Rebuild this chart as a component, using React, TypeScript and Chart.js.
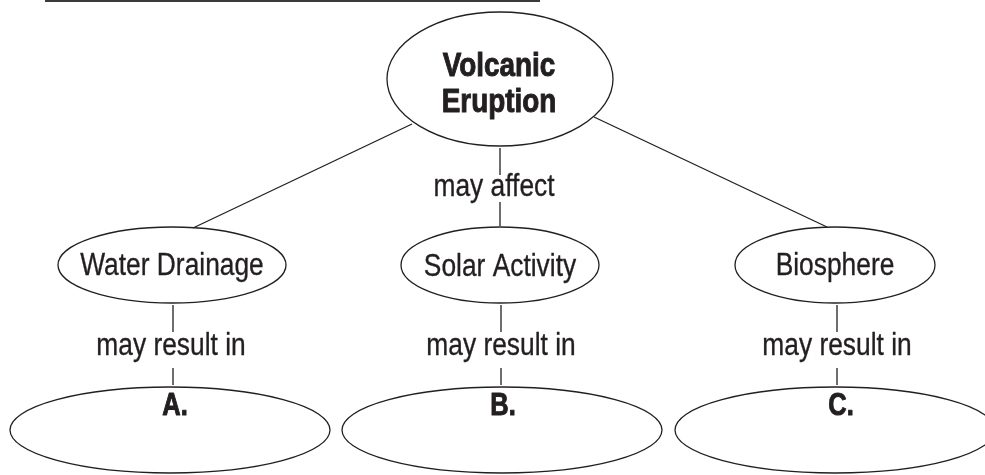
import { useEffect, useRef } from "react";
import { Chart, registerables } from "chart.js";

Chart.register(...registerables);

// ---- Diagram data (in the 985 x 475 chart units) ----
const nodeLines: string[][] = [
  ["Volcanic", "Eruption"],
  ["Water Drainage"],
  ["Solar Activity"],
  ["Biosphere"],
  ["A."],
  ["B."],
  ["C."],
];
const nodeBold = [true, false, false, false, true, true, true];
const nodeX = [500, 172, 500, 835, 170, 502, 835];
const nodeY = [79, 265, 265, 265, 430, 430, 430];
const nodeRx = [113, 114, 99, 100, 160, 160, 160];
const nodeRy = [67, 38, 38, 38, 43, 43, 43];
const nodeTextX = [499, 172, 500, 835, 175, 503, 841];
const nodeTextY = [76, 275, 276, 275, 415, 415, 415];

const linkLabels = ["may affect", "may result in", "may result in", "may result in"];
const linkLabelX = [494, 171, 501, 837];
const linkLabelY = [196, 355, 355, 355];

const linkX1 = [412, 594, 500, 500, 173, 173, 501, 501, 837, 837];
const linkY1 = [124, 117, 148, 202, 305, 368, 305, 368, 305, 368];
const linkX2 = [193, 827, 500, 500, 173, 173, 501, 501, 837, 837];
const linkY2 = [228, 227, 175, 226, 332, 385, 332, 385, 332, 385];

const ruleX = [45, 540];
const ruleY = [0.8, 0.8];

const INK = "#231f20";
const FONT = "'Liberation Sans', Arial, 'Helvetica', sans-serif";

function drawNarrow(
  ctx: CanvasRenderingContext2D,
  text: string,
  x: number,
  y: number,
  sx: number,
  weight: number
) {
  ctx.save();
  ctx.translate(x, y);
  ctx.scale(sx, 1);
  ctx.fillText(text, 0, 0);
  if (weight > 0) {
    ctx.lineWidth = weight;
    ctx.strokeStyle = INK;
    ctx.lineJoin = "round";
    ctx.strokeText(text, 0, 0);
  }
  ctx.restore();
}

const conceptPlugin = {
  id: "conceptMap",
  afterDatasetsDraw(chart: any) {
    const { ctx } = chart;
    const xs = chart.scales.x;
    const ys = chart.scales.y;
    ctx.save();
    // ellipses
    for (let i = 0; i < nodeX.length; i++) {
      const cx = xs.getPixelForValue(nodeX[i]);
      const cy = ys.getPixelForValue(nodeY[i]);
      const rx = Math.abs(xs.getPixelForValue(nodeX[i] + nodeRx[i]) - cx);
      const ry = Math.abs(ys.getPixelForValue(nodeY[i] + nodeRy[i]) - cy);
      ctx.beginPath();
      ctx.ellipse(cx, cy, rx, ry, 0, 0, Math.PI * 2);
      ctx.lineWidth = 1.3;
      ctx.strokeStyle = INK;
      ctx.stroke();
    }
    // node texts
    ctx.fillStyle = INK;
    ctx.textAlign = "center";
    ctx.textBaseline = "alphabetic";
    for (let i = 0; i < nodeLines.length; i++) {
      ctx.font = nodeBold[i] ? `bold ${i === 0 ? 34 : 31}px ${FONT}` : `31px ${FONT}`;
      const lines = nodeLines[i];
      for (let j = 0; j < lines.length; j++) {
        drawNarrow(
          ctx,
          lines[j],
          xs.getPixelForValue(nodeTextX[i]),
          ys.getPixelForValue(nodeTextY[i] + j * 36),
          nodeBold[i] ? 0.82 : 0.85,
          nodeBold[i] ? 1.0 : 0.35
        );
      }
    }
    // link labels
    ctx.font = `31px ${FONT}`;
    for (let i = 0; i < linkLabels.length; i++) {
      drawNarrow(
        ctx,
        linkLabels[i],
        xs.getPixelForValue(linkLabelX[i]),
        ys.getPixelForValue(linkLabelY[i]),
        0.85,
        0.35
      );
    }
    ctx.restore();
  },
};

export default function App() {
  const ref = useRef<HTMLCanvasElement | null>(null);
  useEffect(() => {
    if (!ref.current) return;
    const datasets: any[] = linkX1.map((_, i) => ({
      type: "line",
      data: [
        { x: linkX1[i], y: linkY1[i] },
        { x: linkX2[i], y: linkY2[i] },
      ],
      borderColor: INK,
      borderWidth: 1.3,
      pointRadius: 0,
      showLine: true,
      fill: false,
    }));
    datasets.push({
      type: "line",
      data: [
        { x: ruleX[0], y: ruleY[0] },
        { x: ruleX[1], y: ruleY[1] },
      ],
      borderColor: "#3a3a3a",
      borderWidth: 2.5,
      pointRadius: 0,
      showLine: true,
      fill: false,
    });
    const chart = new Chart(ref.current, {
      type: "scatter",
      data: { datasets },
      options: {
        animation: false,
        responsive: true,
        maintainAspectRatio: false,
        layout: { padding: 0 },
        plugins: { legend: { display: false }, tooltip: { enabled: false } },
        scales: {
          x: { type: "linear", min: 0, max: 985, display: false },
          y: { type: "linear", min: 0, max: 475, reverse: true, display: false },
        },
        clip: false as any,
      },
      plugins: [conceptPlugin],
    } as any);
    return () => chart.destroy();
  }, []);
  return (
    <div style={{ position: "absolute", left: 0, top: 0, width: 985, height: 475, background: "#fff" }}>
      <canvas ref={ref} />
    </div>
  );
}
